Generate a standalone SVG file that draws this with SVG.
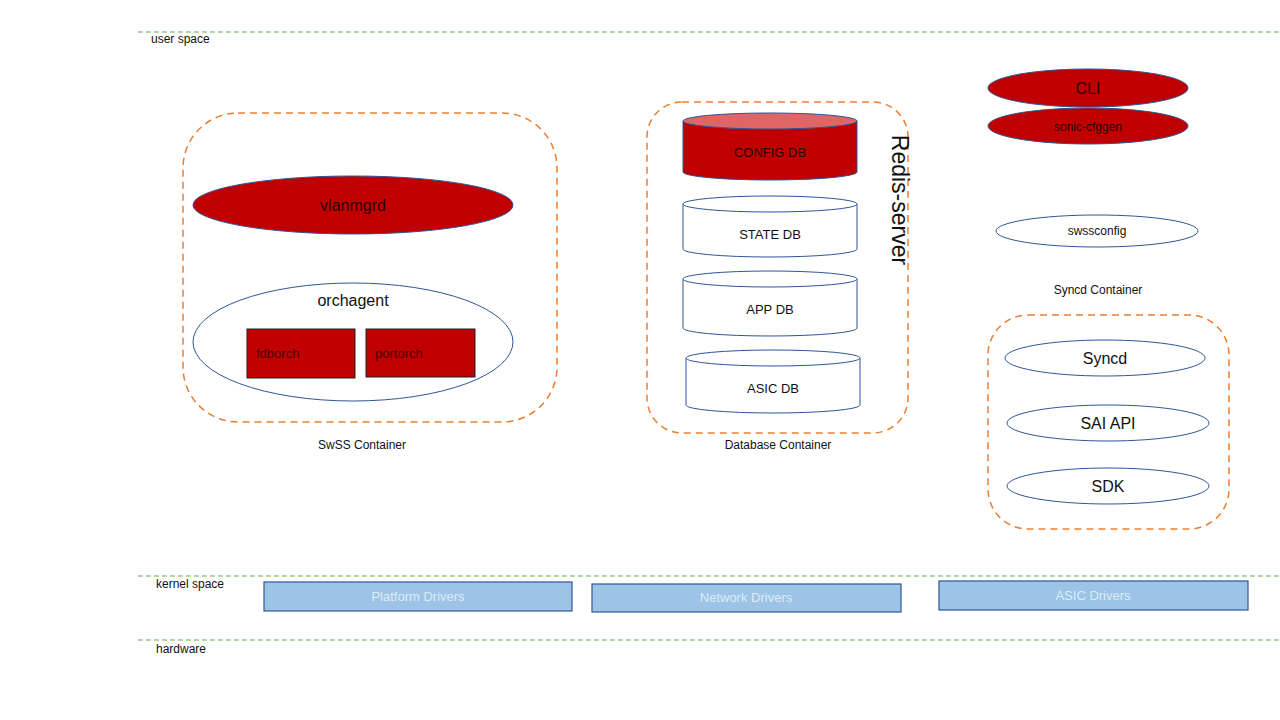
<svg xmlns="http://www.w3.org/2000/svg" width="1280" height="720" viewBox="0 0 1280 720">
<style>
.sep{stroke:#70AD47;stroke-width:1;stroke-dasharray:5 3;fill:none}
.cont{fill:none;stroke:#ED7D31;stroke-width:1.5;stroke-dasharray:7 5}
.red{fill:#C00000;stroke:#2F5597;stroke-width:1}
.white{fill:#fff;stroke:#2F5597;stroke-width:1}
.drv{fill:#9DC3E6;stroke:#2F5597;stroke-width:1.2}
.lbl{font-family:"Liberation Sans",Arial,sans-serif;font-size:12px;fill:#111}
.t16{font-family:"Liberation Sans",Arial,sans-serif;font-size:16px;fill:#111;text-anchor:middle}
.t13{font-family:"Liberation Sans",Arial,sans-serif;font-size:13px;fill:#111;text-anchor:middle}
.t12{font-family:"Liberation Sans",Arial,sans-serif;font-size:12px;fill:#111;text-anchor:middle}
.dk{fill:#2a0000}
.orch{font-family:"Liberation Sans",Arial,sans-serif;font-size:13px;fill:#4a0000}
.dt{font-family:"Liberation Sans",Arial,sans-serif;font-size:13px;fill:#DEEBF7;text-anchor:middle}
</style>
<rect width="1280" height="720" fill="#fff"/>
<g id="layers">
<line class="sep" x1="138" y1="32" x2="1280" y2="32"/>
<line class="sep" x1="138" y1="576" x2="1280" y2="576"/>
<line class="sep" x1="138" y1="640" x2="1280" y2="640"/>
<text class="lbl" x="151" y="43">user space</text>
<text class="lbl" x="156" y="588">kernel space</text>
<text class="lbl" x="156" y="653">hardware</text>
</g>
<g id="swss-container">
<rect class="cont" x="183" y="113" width="374" height="309" rx="55" ry="55"/>
<text class="lbl" x="362" y="449" text-anchor="middle">SwSS Container</text>
</g>
<g id="vlanmgrd">
<ellipse class="red" cx="353" cy="205" rx="160" ry="29"/>
<text class="t16 dk" x="353" y="211">vlanmgrd</text>
</g>
<g id="orchagent">
<ellipse class="white" cx="353" cy="342" rx="160" ry="59"/>
<text class="t16" x="353" y="306">orchagent</text>
</g>
<g id="fdborch">
<rect x="247" y="329" width="108" height="49" fill="#C00000" stroke="#222" stroke-width="1"/>
<text class="orch" x="256" y="358">fdborch</text>
</g>
<g id="portorch">
<rect x="366" y="329" width="109" height="48" fill="#C00000" stroke="#222" stroke-width="1"/>
<text class="orch" x="375" y="358">portorch</text>
</g>
<g id="database-container">
<rect class="cont" x="647" y="102" width="261" height="331" rx="35" ry="35"/>
<text class="lbl" x="778" y="449" text-anchor="middle">Database Container</text>
<text x="898" y="200" transform="rotate(90 898 200)" font-family="Liberation Sans,Arial,sans-serif" font-size="23" fill="#111" text-anchor="middle" dominant-baseline="middle">Redis-server</text>
</g>
<g id="config-db">
<path d="M683,121 L683,172 A87,8 0 0 0 857,172 L857,121" fill="#C00000" stroke="#2F5597" stroke-width="1"/>
<ellipse cx="770" cy="121" rx="87" ry="8" fill="#E06666" stroke="#2F5597" stroke-width="1"/>
<text class="t13 dk" x="770" y="157">CONFIG DB</text>
</g>
<g id="state-db">
<path d="M683,204 L683,249 A87,8 0 0 0 857,249 L857,204" class="white"/>
<ellipse class="white" cx="770" cy="204" rx="87" ry="8"/>
<text class="t13" x="770" y="239">STATE DB</text>
</g>
<g id="app-db">
<path d="M683,279 L683,328 A87,8 0 0 0 857,328 L857,279" class="white"/>
<ellipse class="white" cx="770" cy="279" rx="87" ry="8"/>
<text class="t13" x="770" y="314">APP DB</text>
</g>
<g id="asic-db">
<path d="M686,358 L686,405 A87,8 0 0 0 860,405 L860,358" class="white"/>
<ellipse class="white" cx="773" cy="358" rx="87" ry="8"/>
<text class="t13" x="773" y="393">ASIC DB</text>
</g>
<g id="cli">
<ellipse class="red" cx="1088" cy="88" rx="100" ry="19"/>
<text class="t16 dk" x="1088" y="94">CLI</text>
</g>
<g id="sonic-cfggen">
<ellipse class="red" cx="1088" cy="126" rx="100" ry="18"/>
<text class="t12 dk" x="1088" y="131">sonic-cfggen</text>
</g>
<g id="swssconfig">
<ellipse class="white" cx="1097" cy="231" rx="101" ry="16"/>
<text class="t12" x="1097" y="235">swssconfig</text>
</g>
<g id="syncd-container">
<rect class="cont" x="988" y="315" width="241" height="214" rx="40" ry="40"/>
<text class="lbl" x="1098" y="294" text-anchor="middle">Syncd Container</text>
</g>
<g id="syncd">
<ellipse class="white" cx="1105" cy="358" rx="100" ry="18"/>
<text class="t16" x="1105" y="364">Syncd</text>
</g>
<g id="sai-api">
<ellipse class="white" cx="1108" cy="423" rx="101" ry="18"/>
<text class="t16" x="1108" y="429">SAI API</text>
</g>
<g id="sdk">
<ellipse class="white" cx="1108" cy="486" rx="101" ry="18"/>
<text class="t16" x="1108" y="492">SDK</text>
</g>
<g id="platform-drivers">
<rect class="drv" x="264" y="582" width="308" height="29"/>
<text class="dt" x="418" y="601">Platform Drivers</text>
</g>
<g id="network-drivers">
<rect class="drv" x="592" y="584" width="309" height="28"/>
<text class="dt" x="746" y="602">Network Drivers</text>
</g>
<g id="asic-drivers">
<rect class="drv" x="939" y="581" width="309" height="29"/>
<text class="dt" x="1093" y="600">ASIC Drivers</text>
</g>
<g id="connectors"></g>
</svg>
